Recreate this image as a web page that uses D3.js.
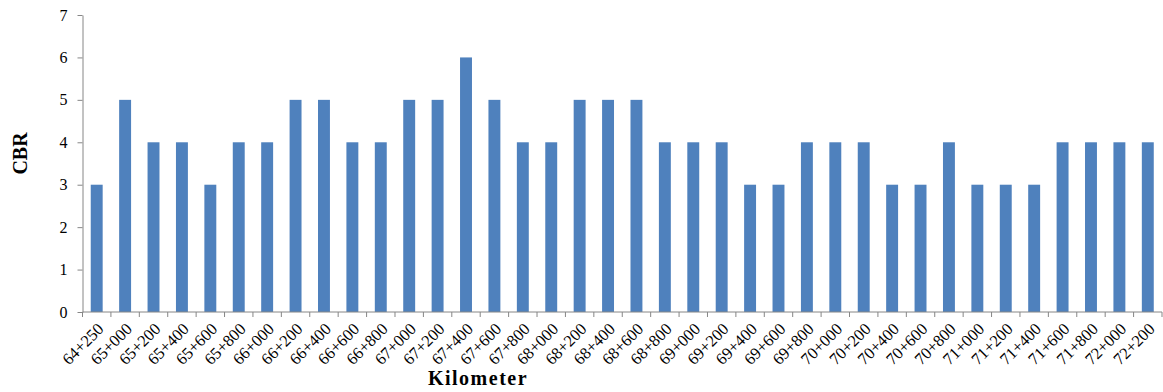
<!DOCTYPE html>
<html>
<head>
<meta charset="utf-8">
<script src="https://cdn.jsdelivr.net/npm/d3@7"></script>
<style>
  html, body { margin: 0; padding: 0; background: #fff; }
  svg { display: block; }
  text { font-family: "Liberation Serif", "Times New Roman", serif; fill: #000; }
</style>
</head>
<body>
<svg id="chart" width="1163" height="392"></svg>
<script>
// Station chainage (km+m) along the route
const kilometers = [
  "64+250", "65+000", "65+200", "65+400", "65+600", "65+800",
  "66+000", "66+200", "66+400", "66+600", "66+800",
  "67+000", "67+200", "67+400", "67+600", "67+800",
  "68+000", "68+200", "68+400", "68+600", "68+800",
  "69+000", "69+200", "69+400", "69+600", "69+800",
  "70+000", "70+200", "70+400", "70+600", "70+800",
  "71+000", "71+200", "71+400", "71+600", "71+800",
  "72+000", "72+200"
];

// CBR value measured at each station
const cbrValues = [
  3, 5, 4, 4, 3, 4,
  4, 5, 5, 4, 4,
  5, 5, 6, 5, 4,
  4, 5, 5, 5, 4,
  4, 4, 3, 3, 4,
  4, 4, 3, 3, 4,
  3, 3, 3, 4, 4,
  4, 4
];

const yTicks = [0, 1, 2, 3, 4, 5, 6, 7];

const margin = { left: 82.5, right: 1, top: 15, bottom: 80 };
const width = 1163, height = 392;

const svg = d3.select("#chart");

const x = d3.scaleBand()
  .domain(kilometers)
  .range([margin.left, width - margin.right])
  .paddingInner(0.58)
  .paddingOuter(0.29);

const y = d3.scaleLinear()
  .domain([0, 7])
  .range([height - margin.bottom, margin.top]);

const axisColor = "#868686";

// bars
svg.append("g")
  .selectAll("rect")
  .data(kilometers)
  .join("rect")
  .attr("x", d => x(d))
  .attr("y", (d, i) => y(cbrValues[i]))
  .attr("width", x.bandwidth())
  .attr("height", (d, i) => y(0) - y(cbrValues[i]))
  .attr("fill", "#4F81BD");

// y axis
const yAxis = svg.append("g")
  .attr("transform", `translate(${margin.left},0)`)
  .call(d3.axisLeft(y).tickValues(yTicks).tickFormat(d3.format("d"))
    .tickSize(5).tickPadding(10).tickSizeOuter(0));
yAxis.select(".domain").attr("stroke", axisColor);
yAxis.selectAll(".tick line").attr("stroke", axisColor);
yAxis.selectAll(".tick text")
  .attr("font-size", 16)
  .attr("font-family", "Liberation Serif")
  .attr("fill", "#000");

// x axis: ticks sit on category boundaries
const boundaries = d3.range(kilometers.length + 1)
  .map(i => margin.left + i * (width - margin.right - margin.left) / kilometers.length);
const xg = svg.append("g");
xg.append("line")
  .attr("x1", margin.left).attr("x2", width - margin.right)
  .attr("y1", y(0)).attr("y2", y(0))
  .attr("stroke", axisColor);
xg.selectAll("line.tick")
  .data(boundaries)
  .join("line")
  .attr("class", "tick")
  .attr("x1", d => d).attr("x2", d => d)
  .attr("y1", y(0)).attr("y2", y(0) + 5)
  .attr("stroke", axisColor);

xg.selectAll("text")
  .data(kilometers)
  .join("text")
  .attr("text-anchor", "end")
  .attr("font-size", 16.5)
  .attr("transform", d => `translate(${x(d) + x.bandwidth() / 2 + 8},${y(0) + 18}) rotate(-45)`)
  .text(d => d);

// axis titles
svg.append("text")
  .attr("text-anchor", "middle")
  .attr("font-size", 20)
  .attr("font-weight", "bold")
  .attr("transform", `translate(27,153.5) rotate(-90)`)
  .text("CBR");

svg.append("text")
  .attr("text-anchor", "middle")
  .attr("font-size", 20)
  .attr("font-weight", "bold")
  .attr("letter-spacing", 1.5)
  .attr("x", 478)
  .attr("y", 385)
  .text("Kilometer");
</script>
</body>
</html>
